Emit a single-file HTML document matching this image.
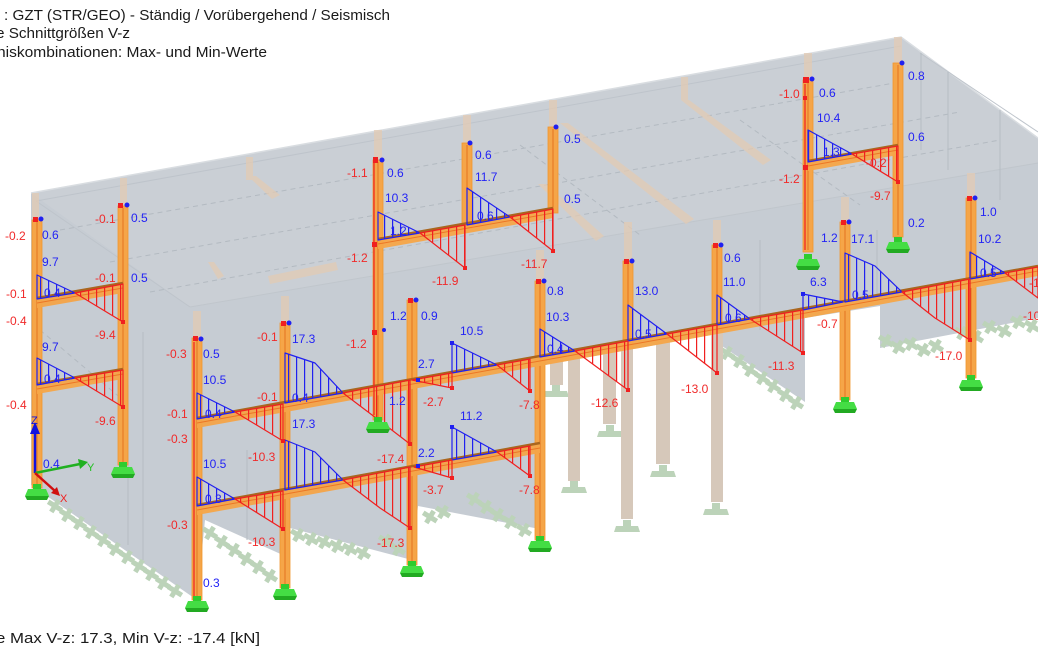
<!DOCTYPE html>
<html><head><meta charset="utf-8"><style>
html,body{margin:0;padding:0;background:#fff;}
svg{display:block;}
text{font-family:"Liberation Sans",Arial,sans-serif;}
.b{fill:#2323f5;font-size:12px;}
.r{fill:#f02a2a;font-size:12px;}
.t{fill:#1a1a1a;font-size:15px;}
</style></head><body>
<svg width="1038" height="649" viewBox="0 0 1038 649" xmlns="http://www.w3.org/2000/svg">
<defs>
<pattern id="hb" width="8" height="10" patternUnits="userSpaceOnUse"><rect x="0" y="0" width="1.2" height="10" fill="#2020f0"/></pattern>
<pattern id="hr" width="8" height="10" patternUnits="userSpaceOnUse"><rect x="0" y="0" width="1.2" height="10" fill="#f02020"/></pattern>
<g id="pc" fill="#bcd3b9"><rect x="-8" y="-2.5" width="16" height="5" transform="rotate(32)"/><rect x="-2.5" y="-7" width="5" height="14" transform="rotate(32)"/></g>
<g id="ps" fill="#bcd3b9"><rect x="-4" y="-6" width="8" height="6"/><polygon points="-11,0 11,0 13,6 -13,6"/></g>
<g id="gs"><rect x="-4" y="-8" width="8" height="6" fill="#2ecc2e"/><polygon points="-9,-3 9,-3 12,4 -12,4" fill="#44dd44"/><polygon points="-12,4 12,4 10,8 -10,8" fill="#22aa22"/></g>
</defs>
<rect width="1038" height="649" fill="#fff"/>

<!-- building body -->
<polygon points="31,193 901,37 1038,138 1038,318 880,348 880,306 805,318 805,402 722,346 722,333 545,365 545,530 418,506 412,560 290,528 285,556 205,520 197,600 31,485" fill="#c6ccd3"/>
<polygon points="31,193 901,37 1038,138 1038,163 190,307" fill="#cacfd5"/>
<polyline points="31,193 901,37 1038,138" fill="none" stroke="#d9dde1" stroke-width="1.5"/>
<line x1="36" y1="201" x2="901" y2="46" stroke="#bec4cb" stroke-width="1"/>
<line x1="920" y1="53" x2="1038" y2="132" stroke="#bec4cb" stroke-width="1"/>
<line x1="190" y1="307" x2="1038" y2="163" stroke="#c0c6cc" stroke-width="1"/>
<line x1="36" y1="201" x2="190" y2="307" stroke="#bec4cb" stroke-width="1"/>
<g stroke="#b3bac1" stroke-width="1" stroke-dasharray="5,4" fill="none">
<line x1="60" y1="230" x2="900" y2="82"/>
<line x1="110" y1="262" x2="960" y2="112"/>
<line x1="150" y1="292" x2="1000" y2="140"/>
<line x1="520" y1="145" x2="640" y2="235"/>
<line x1="740" y1="120" x2="860" y2="205"/>
<line x1="40" y1="330" x2="123" y2="400"/>
</g>
<g stroke="#b5bcc3" stroke-width="1">
<line x1="143" y1="332" x2="143" y2="560"/>
<line x1="128" y1="385" x2="128" y2="545"/>
<line x1="247" y1="450" x2="247" y2="540"/>
<line x1="921" y1="53" x2="921" y2="150"/>
<line x1="948" y1="72" x2="948" y2="170"/>
<line x1="1000" y1="110" x2="1000" y2="200"/>
<line x1="760" y1="240" x2="760" y2="330"/>
<line x1="877" y1="230" x2="877" y2="300"/>
</g>

<!-- tan elements -->
<g fill="#e3cbb4" opacity="0.75">
<polygon points="560,123 568,123 694,219 686,224"/>
<polygon points="538,184 546,184 604,236 596,241"/>
<polygon points="681,100 689,100 771,160 763,165"/>
<polygon points="248,176 256,176 280,195 272,199"/>
<polygon points="268,276 336,262 338,270 270,284"/>
<polygon points="208,262 214,262 224,276 218,279"/>
<rect x="246" y="157" width="7" height="23"/>
<rect x="681" y="77" width="7" height="23"/>
<rect x="32" y="193" width="7" height="27"/>
<rect x="120" y="178" width="7" height="28"/>
<rect x="193" y="311" width="8" height="28"/>
<rect x="281" y="296" width="8" height="28"/>
<rect x="374" y="130" width="8" height="30"/>
<rect x="463" y="115" width="8" height="28"/>
<rect x="549" y="100" width="8" height="27"/>
<rect x="536" y="250" width="8" height="31"/>
<rect x="624" y="222" width="8" height="39"/>
<rect x="713" y="220" width="8" height="25"/>
<rect x="804" y="53" width="8" height="27"/>
<rect x="894" y="37" width="8" height="26"/>
<rect x="841" y="197" width="8" height="25"/>
<rect x="967" y="173" width="8" height="25"/>
</g>

<!-- pale green line supports -->
<g>
<use href="#pc" x="55" y="506"/><use href="#pc" x="67" y="515"/><use href="#pc" x="79" y="523"/><use href="#pc" x="91" y="532"/><use href="#pc" x="103" y="540"/><use href="#pc" x="115" y="549"/><use href="#pc" x="127" y="557"/><use href="#pc" x="139" y="566"/><use href="#pc" x="151" y="574"/><use href="#pc" x="163" y="583"/><use href="#pc" x="175" y="591"/>
<use href="#pc" x="210" y="533"/><use href="#pc" x="222" y="542"/><use href="#pc" x="234" y="550"/><use href="#pc" x="246" y="559"/><use href="#pc" x="258" y="567"/><use href="#pc" x="270" y="576"/>
<use href="#pc" x="298" y="535"/><use href="#pc" x="311" y="539"/><use href="#pc" x="324" y="542"/><use href="#pc" x="337" y="546"/><use href="#pc" x="350" y="549"/><use href="#pc" x="363" y="553"/><use href="#pc" x="386" y="541"/><use href="#pc" x="398" y="549"/>
<use href="#pc" x="430" y="517"/><use href="#pc" x="443" y="512"/><use href="#pc" x="474" y="499"/><use href="#pc" x="486" y="507"/><use href="#pc" x="498" y="515"/><use href="#pc" x="510" y="522"/><use href="#pc" x="524" y="530"/>
<use href="#pc" x="727" y="353"/><use href="#pc" x="739" y="361"/><use href="#pc" x="750" y="370"/><use href="#pc" x="762" y="378"/><use href="#pc" x="773" y="386"/><use href="#pc" x="785" y="395"/><use href="#pc" x="796" y="403"/>
<use href="#pc" x="886" y="341"/><use href="#pc" x="898" y="347"/><use href="#pc" x="911" y="344"/><use href="#pc" x="923" y="350"/><use href="#pc" x="936" y="346"/><use href="#pc" x="962" y="333"/><use href="#pc" x="976" y="337"/><use href="#pc" x="990" y="327"/><use href="#pc" x="1004" y="331"/><use href="#pc" x="1018" y="322"/><use href="#pc" x="1032" y="326"/>
<use href="#ps" x="556" y="391"/><use href="#ps" x="574" y="487"/><use href="#ps" x="610" y="431"/><use href="#ps" x="627" y="526"/><use href="#ps" x="663" y="471"/><use href="#ps" x="716" y="509"/>
</g>

<!-- tan columns below main beam -->
<g fill="#d6c8ba">
<rect x="550" y="355" width="13" height="30"/>
<rect x="568" y="351" width="12" height="130"/>
<rect x="603" y="345" width="13" height="79"/>
<rect x="621" y="344" width="12" height="175"/>
<rect x="656" y="334" width="14" height="130"/>
<rect x="711" y="328" width="12" height="174"/>
</g>

<!-- columns -->
<g fill="#f5a548" stroke="#f0962e" stroke-width="0.8">
<rect x="32" y="220" width="10" height="268"/>
<rect x="118" y="206" width="10" height="259"/>
<rect x="192" y="338" width="10" height="262"/>
<rect x="280" y="323" width="10" height="265"/>
<rect x="373" y="160" width="10" height="260"/>
<rect x="407" y="300" width="10" height="265"/>
<rect x="462" y="143" width="10" height="85"/>
<rect x="548" y="127" width="10" height="86"/>
<rect x="535" y="281" width="10" height="259"/>
<rect x="623" y="261" width="10" height="87"/>
<rect x="712" y="245" width="10" height="85"/>
<rect x="803" y="80" width="10" height="172"/>
<rect x="893" y="63" width="10" height="174"/>
<rect x="840" y="222" width="10" height="178"/>
<rect x="966" y="198" width="10" height="180"/>
</g>
<g stroke="#e2731f" stroke-width="1">
<line x1="37" y1="222" x2="37" y2="486"/><line x1="123" y1="208" x2="123" y2="463"/>
<line x1="197" y1="340" x2="197" y2="598"/><line x1="285" y1="325" x2="285" y2="586"/>
<line x1="378" y1="162" x2="378" y2="418"/><line x1="412" y1="302" x2="412" y2="563"/>
<line x1="467" y1="145" x2="467" y2="226"/><line x1="553" y1="129" x2="553" y2="211"/>
<line x1="540" y1="283" x2="540" y2="538"/><line x1="628" y1="263" x2="628" y2="346"/>
<line x1="717" y1="247" x2="717" y2="328"/><line x1="808" y1="82" x2="808" y2="250"/>
<line x1="898" y1="65" x2="898" y2="235"/><line x1="845" y1="224" x2="845" y2="398"/>
<line x1="971" y1="200" x2="971" y2="376"/>
</g>

<!-- beams -->
<g fill="#f5a548" opacity="0.95">
<polygon points="37,297 123,282 123,293 37,308"/>
<polygon points="37,383 123,368 123,379 37,394"/>
<polygon points="197,417 1038,265 1038,276 197,428"/>
<polygon points="197,504 540,442 540,453 197,515"/>
<polygon points="378,238 553,207 553,218 378,249"/>
<polygon points="808,160 898,144 898,155 808,171"/>
</g>
<g stroke="#a9661f" stroke-width="2.5">
<line x1="37" y1="298" x2="123" y2="283"/>
<line x1="37" y1="384" x2="123" y2="369"/>
<line x1="197" y1="418" x2="1038" y2="266"/>
<line x1="197" y1="505" x2="540" y2="443"/>
<line x1="378" y1="239" x2="553" y2="208"/>
<line x1="808" y1="161" x2="898" y2="145"/>
</g>
<g stroke="#ec7626" stroke-width="1">
<line x1="37" y1="303" x2="123" y2="288"/>
<line x1="37" y1="389" x2="123" y2="374"/>
<line x1="197" y1="423" x2="1038" y2="271"/>
<line x1="197" y1="510" x2="540" y2="448"/>
<line x1="378" y1="244" x2="553" y2="213"/>
<line x1="808" y1="166" x2="898" y2="150"/>
</g>

<!-- column shear lines -->
<g stroke="#f02020" stroke-width="1.2" fill="none">
<line x1="374" y1="163" x2="374" y2="415"/>
<line x1="805" y1="84" x2="805" y2="250"/>
<line x1="194" y1="342" x2="194" y2="596"/>
</g>

<!-- shear diagrams -->
<g stroke="#2020f0" stroke-width="1.2" fill="url(#hb)" stroke-linejoin="round">
<polygon points="37,299 37,275 75,293"/>
<polygon points="37,385 37,358 75,378"/>
<polygon points="197,419 197,393 235,412"/>
<polygon points="285,403 285,353 315,363 343,393"/>
<polygon points="197,506 197,477 235,499"/>
<polygon points="285,490 285,440 315,452 343,480"/>
<polygon points="452,373 452,343 497,365"/>
<polygon points="452,460 452,427 497,452"/>
<polygon points="540,357 540,329 575,351"/>
<polygon points="628,341 628,305 667,334"/>
<polygon points="717,325 717,295 750,319"/>
<polygon points="803,310 803,294 843,302"/>
<polygon points="845,302 845,253 875,266 902,292"/>
<polygon points="970,279 970,252 1005,273"/>
<polygon points="378,240 378,212 420,233"/>
<polygon points="467,225 467,188 510,217"/>
<polygon points="808,162 808,130 852,154"/>
</g>
<g stroke="#f02020" stroke-width="1.2" fill="url(#hr)" stroke-linejoin="round">
<polygon points="75,293 123,322 123,284"/>
<polygon points="75,378 123,407 123,370"/>
<polygon points="235,412 283,441 283,404"/>
<polygon points="343,393 380,421 410,444 410,380"/>
<polygon points="235,499 283,529 283,491"/>
<polygon points="343,480 380,508 410,528 410,467"/>
<polygon points="497,365 530,391 530,359"/>
<polygon points="412,380 452,388 452,373"/>
<polygon points="497,452 530,476 530,446"/>
<polygon points="414,467 452,478 452,460"/>
<polygon points="575,351 628,390 628,341"/>
<polygon points="667,334 717,373 717,325"/>
<polygon points="750,319 803,353 803,310"/>
<polygon points="902,292 935,318 970,340 970,279"/>
<polygon points="1005,273 1038,298 1038,267"/>
<polygon points="420,233 465,268 465,225"/>
<polygon points="510,217 553,251 553,209"/>
<polygon points="852,154 898,182 898,146"/>
</g>

<!-- end markers -->
<g fill="#f02020">
<rect x="121" y="320" width="4" height="4"/><rect x="121" y="405" width="4" height="4"/>
<rect x="281" y="439" width="4" height="4"/><rect x="408" y="442" width="4" height="4"/>
<rect x="281" y="527" width="4" height="4"/><rect x="408" y="526" width="4" height="4"/>
<rect x="528" y="389" width="4" height="4"/><rect x="450" y="386" width="4" height="4"/>
<rect x="528" y="474" width="4" height="4"/><rect x="450" y="476" width="4" height="4"/>
<rect x="626" y="388" width="4" height="4"/><rect x="715" y="371" width="4" height="4"/>
<rect x="801" y="351" width="4" height="4"/><rect x="968" y="338" width="4" height="4"/>
<rect x="463" y="266" width="4" height="4"/><rect x="551" y="249" width="4" height="4"/>
<rect x="896" y="180" width="4" height="4"/>
<rect x="372" y="242" width="5" height="5"/><rect x="372" y="330" width="5" height="5"/>
<rect x="803" y="165" width="5" height="5"/><rect x="803" y="96" width="4" height="4"/>
<rect x="33" y="217" width="5" height="5"/><rect x="118" y="203" width="5" height="5"/>
<rect x="193" y="336" width="5" height="5"/><rect x="281" y="321" width="5" height="5"/>
<rect x="373" y="157" width="5" height="6"/><rect x="408" y="298" width="5" height="5"/>
<rect x="536" y="279" width="5" height="5"/><rect x="624" y="259" width="5" height="5"/>
<rect x="713" y="243" width="5" height="5"/><rect x="803" y="77" width="6" height="6"/>
<rect x="841" y="220" width="5" height="5"/><rect x="967" y="196" width="5" height="5"/>
</g>
<g fill="#2020f0">
<rect x="450" y="341" width="4" height="4"/><rect x="450" y="425" width="4" height="4"/>
<rect x="801" y="292" width="4" height="4"/><rect x="416" y="378" width="4" height="4"/>
<rect x="416" y="464" width="4" height="4"/>
<circle cx="41" cy="219" r="2.5"/><circle cx="127" cy="205" r="2.5"/>
<circle cx="201" cy="339" r="2.5"/><circle cx="289" cy="323" r="2.5"/>
<circle cx="382" cy="160" r="2.5"/><circle cx="416" cy="300" r="2.5"/>
<circle cx="470" cy="143" r="2.5"/><circle cx="556" cy="127" r="2.5"/>
<circle cx="544" cy="281" r="2.5"/><circle cx="632" cy="261" r="2.5"/>
<circle cx="721" cy="245" r="2.5"/><circle cx="812" cy="79" r="2.5"/>
<circle cx="902" cy="63" r="2.5"/><circle cx="849" cy="222" r="2.5"/>
<circle cx="975" cy="198" r="2.5"/>
<circle cx="384" cy="330" r="2"/>
</g>

<!-- supports -->
<use href="#gs" x="37" y="492"/><use href="#gs" x="123" y="470"/>
<use href="#gs" x="197" y="604"/><use href="#gs" x="285" y="592"/>
<use href="#gs" x="378" y="425"/><use href="#gs" x="412" y="569"/>
<use href="#gs" x="540" y="544"/><use href="#gs" x="808" y="262"/>
<use href="#gs" x="898" y="245"/><use href="#gs" x="845" y="405"/>
<use href="#gs" x="971" y="383"/>

<!-- axis triad -->
<g stroke-width="2.5">
<line x1="35" y1="473" x2="35" y2="432" stroke="#1010e0"/>
<line x1="35" y1="473" x2="80" y2="464" stroke="#20b020"/>
<line x1="35" y1="473" x2="55" y2="491" stroke="#d01010"/>
</g>
<polygon points="30,434 40,434 35,422" fill="#1010e0"/>
<polygon points="78,459 88,462 80,469" fill="#20b020"/>
<polygon points="51,493 60,496 57,487" fill="#d01010"/>
<text x="31" y="424" style="font-size:11px;fill:#1010e0">Z</text>
<text x="87" y="471" style="font-size:11px;fill:#20c020">Y</text>
<text x="60" y="502" style="font-size:11px;fill:#f02020">X</text>

<!-- labels frame 1 -->
<text class="r" x="5" y="240">-0.2</text>
<text class="b" x="42" y="239">0.6</text>
<text class="r" x="95" y="223">-0.1</text>
<text class="b" x="131" y="222">0.5</text>
<text class="b" x="42" y="266">9.7</text>
<text class="r" x="95" y="282">-0.1</text>
<text class="b" x="131" y="282">0.5</text>
<text class="b" x="44" y="297">0.4</text>
<text class="r" x="6" y="298">-0.1</text>
<text class="r" x="6" y="325">-0.4</text>
<text class="r" x="95" y="339">-9.4</text>
<text class="b" x="42" y="351">9.7</text>
<text class="b" x="44" y="383">0.4</text>
<text class="r" x="6" y="409">-0.4</text>
<text class="r" x="95" y="425">-9.6</text>
<text class="b" x="43" y="468">0.4</text>

<!-- labels frame 2 -->
<text class="r" x="166" y="358">-0.3</text>
<text class="b" x="203" y="358">0.5</text>
<text class="b" x="203" y="384">10.5</text>
<text class="r" x="257" y="341">-0.1</text>
<text class="b" x="292" y="343">17.3</text>
<text class="r" x="167" y="418">-0.1</text>
<text class="b" x="205" y="418">0.4</text>
<text class="r" x="257" y="401">-0.1</text>
<text class="b" x="292" y="402">0.4</text>
<text class="r" x="167" y="443">-0.3</text>
<text class="b" x="292" y="428">17.3</text>
<text class="r" x="248" y="461">-10.3</text>
<text class="r" x="346" y="348">-1.2</text>
<text class="b" x="389" y="405">1.2</text>
<text class="r" x="377" y="463">-17.4</text>
<text class="b" x="203" y="468">10.5</text>
<text class="b" x="205" y="503">0.3</text>
<text class="r" x="167" y="529">-0.3</text>
<text class="r" x="248" y="546">-10.3</text>
<text class="r" x="377" y="547">-17.3</text>
<text class="b" x="203" y="587">0.3</text>
<text class="b" x="418" y="368">2.7</text>
<text class="r" x="423" y="406">-2.7</text>
<text class="b" x="460" y="420">11.2</text>
<text class="b" x="418" y="457">2.2</text>
<text class="r" x="423" y="494">-3.7</text>
<text class="b" x="460" y="335">10.5</text>
<text class="b" x="390" y="320">1.2</text>
<text class="b" x="421" y="320">0.9</text>
<text class="r" x="519" y="409">-7.8</text>
<text class="r" x="519" y="494">-7.8</text>

<!-- labels main beam right -->
<text class="b" x="547" y="295">0.8</text>
<text class="b" x="546" y="321">10.3</text>
<text class="b" x="547" y="353">0.4</text>
<text class="r" x="591" y="407">-12.6</text>
<text class="b" x="635" y="295">13.0</text>
<text class="b" x="635" y="338">0.5</text>
<text class="r" x="681" y="393">-13.0</text>
<text class="b" x="724" y="262">0.6</text>
<text class="b" x="723" y="286">11.0</text>
<text class="b" x="725" y="322">0.6</text>
<text class="r" x="768" y="370">-11.3</text>
<text class="b" x="810" y="286">6.3</text>
<text class="r" x="817" y="328">-0.7</text>
<text class="b" x="821" y="242">1.2</text>
<text class="b" x="851" y="243">17.1</text>
<text class="b" x="852" y="299">0.5</text>
<text class="r" x="935" y="360">-17.0</text>
<text class="b" x="908" y="227">0.2</text>
<text class="b" x="980" y="216">1.0</text>
<text class="b" x="978" y="243">10.2</text>
<text class="b" x="980" y="277">0.5</text>
<text class="r" x="1023" y="320">-10</text>
<text class="r" x="1029" y="287">-1</text>

<!-- labels frame 3 -->
<text class="r" x="347" y="177">-1.1</text>
<text class="b" x="387" y="177">0.6</text>
<text class="b" x="385" y="202">10.3</text>
<text class="b" x="390" y="235">1.2</text>
<text class="r" x="347" y="262">-1.2</text>
<text class="r" x="432" y="285">-11.9</text>
<text class="b" x="475" y="159">0.6</text>
<text class="b" x="475" y="181">11.7</text>
<text class="b" x="477" y="220">0.6</text>
<text class="b" x="564" y="143">0.5</text>
<text class="b" x="564" y="203">0.5</text>
<text class="r" x="521" y="268">-11.7</text>

<!-- labels frame 4 -->
<text class="r" x="779" y="98">-1.0</text>
<text class="b" x="819" y="97">0.6</text>
<text class="b" x="817" y="122">10.4</text>
<text class="b" x="823" y="156">1.3</text>
<text class="r" x="866" y="167">-0.2</text>
<text class="r" x="779" y="183">-1.2</text>
<text class="r" x="870" y="200">-9.7</text>
<text class="b" x="908" y="80">0.8</text>
<text class="b" x="908" y="141">0.6</text>

<!-- titles -->
<text class="t" x="4" y="20" textLength="386" lengthAdjust="spacingAndGlyphs">: GZT (STR/GEO) - Ständig / Vorübergehend / Seismisch</text>
<text class="t" x="-4" y="38" textLength="134" lengthAdjust="spacingAndGlyphs">e Schnittgrößen V-z</text>
<text class="t" x="-3" y="57" textLength="270" lengthAdjust="spacingAndGlyphs">niskombinationen: Max- und Min-Werte</text>
<text class="t" x="-4" y="643" textLength="264" lengthAdjust="spacingAndGlyphs">e Max V-z: 17.3, Min V-z: -17.4 [kN]</text>
</svg>
</body></html>
